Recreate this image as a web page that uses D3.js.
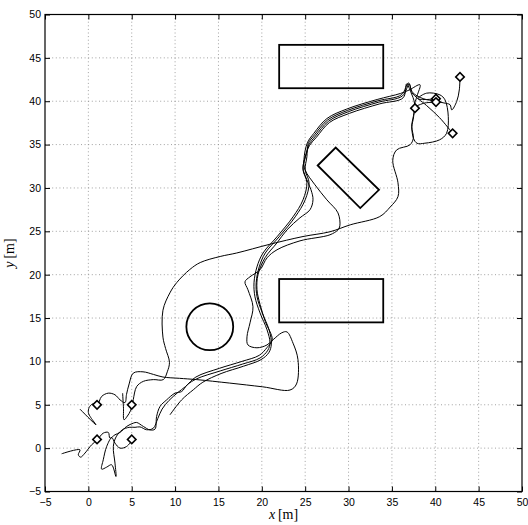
<!DOCTYPE html>
<html><head><meta charset="utf-8">
<script src="https://cdn.jsdelivr.net/npm/d3@7"></script>
<style>body{margin:0;background:#fff}</style>
</head><body>
<script>
// ---- data ----
const xTicks = [-5,0,5,10,15,20,25,30,35,40,45,50];
const yTicks = [-5,0,5,10,15,20,25,30,35,40,45,50];
const xLabel = "x", yLabel = "y", unitLabel = "[m]";

// obstacles
const rectObstacles = [[22,41.5,34,46.5],[22,14.5,34,19.5]];
const circleObstacles = [[14,14,2.7]];
const polyObstacles = [[[26.44,32.59],[28.52,34.66],[33.51,29.79],[31.35,27.68]]];

// start / goal markers
const startMarkers = [[1,5],[5,5],[1,1],[5,1]];
const goalMarkers = [[37.66,39.2],[40.08,40.3],[40.08,39.9],[42,36.3],[42.85,42.8]];

// trajectories
const path1 = [[3.95,6.34],[4.05,4.6],[4.11,3.27],[4.5,3.7],[4.85,4.3],[5.07,5.0],[5.18,5.6],[5.57,7.1],[6.34,7.7],[7.49,7.9],[8.64,7.9],[9.1,8.8],[9.35,9.9],[8.9,11.5],[8.6,12.8],[8.6,15.9],[9.4,17.9],[10.2,19.1],[11.7,20.6],[12.9,21.4],[15.2,22.1],[17.1,22.5],[20.9,23.5],[24.75,24.4],[27.86,24.95],[30.2,25.75],[33.6,26.7],[34.8,27.8],[35.7,29.0],[35.7,30.6],[35.1,33.2],[35.55,34.39],[37.08,34.97],[37.47,35.74],[37.28,37.08],[37.47,38.24],[37.66,39.2]];
const path2 = [[-0.97,4.5],[0.88,2.69],[0.3,3.5],[0.0,4.1],[0.1,4.7],[0.5,5.1],[1.03,5.0],[1.53,5.96],[2.3,6.34],[3.07,6.15],[3.65,5.57],[4.22,5.25],[4.4,6.2],[4.7,7.4],[5.18,8.65],[6.3,8.8],[7.5,8.5],[8.6,8.2],[10.5,8.05],[12.5,7.9],[16.3,7.5],[20.1,7.07],[23.25,6.7],[24.0,7.4],[24.17,10.2],[23.6,12.1],[22.9,13.4],[22.3,13.3],[21.3,12.5],[20.6,11.9],[19.44,11.57],[18.4,11.9],[18.29,12.84],[18.64,14.45],[18.98,16.3],[18.4,18.26],[18.06,19.18],[18.64,19.76],[19.79,20.56],[20.6,21.94],[21.75,22.87],[24.4,23.9],[27.86,24.6],[28.78,25.17],[29.0,25.63],[28.78,27.13],[27.5,28.63],[26.13,30.36],[24.98,32.1],[24.86,33.25],[25.25,35.2],[26.0,36.3],[27.5,38.0],[29.8,39.1],[33.3,40.2],[36.0,40.9],[37.0,41.3],[38.24,41.9],[37.9,40.6],[37.66,39.5],[38.8,39.8],[40.08,39.9]];
const path3 = [[-3.08,-0.65],[-0.97,-0.19],[-1.16,-0.77],[-0.89,-1.04],[-0.39,-0.57],[0.38,0.39],[1.03,0.96],[1.72,1.73],[2.3,1.81],[2.49,1.15],[3.07,1.54],[3.65,1.81],[4.41,2.5],[5.18,2.88],[5.57,2.96],[6.34,2.5],[7.1,2.1],[7.68,2.19],[7.87,3.65],[8.26,4.8],[9.03,5.57],[9.99,6.34],[10.76,6.53],[11.4,7.3],[12.5,8.0],[15.2,8.9],[17.8,9.7],[19.8,10.4],[20.7,11.3],[20.94,12.15],[20.6,13.65],[19.79,15.6],[19.21,17.45],[19.1,19.07],[19.44,20.9],[20.14,22.5],[21.75,24.37],[23.6,26.67],[24.75,28.63],[25.2,30.6],[24.75,32.1],[25.0,33.6],[25.5,34.9],[26.3,35.85],[27.8,37.55],[30.1,38.6],[33.6,39.7],[36.3,40.4],[36.7,42.0],[37.2,41.0],[37.6,39.8],[37.5,38.2],[37.3,37.0],[37.5,35.7],[37.9,35.15],[38.8,35.16],[40.5,35.55],[41.3,36.3],[41.5,38.24],[41.12,40.16],[40.54,40.73],[39.0,40.93],[38.0,40.3],[39.0,40.2],[40.08,40.3]];
const path4 = [[5.07,0.96],[4.41,0.19],[3.65,0.0],[3.07,0.58],[2.7,1.2],[2.11,0.19],[1.72,-1.34],[1.53,-2.42],[2.11,-2.19],[2.68,-1.92],[3.18,-3.27],[3.07,-1.73],[2.88,0.19],[3.2,1.3],[3.9,2.1],[4.7,2.4],[5.38,2.4],[5.95,2.45],[6.72,2.12],[7.49,2.3],[8.0,3.4],[8.5,4.5],[9.3,5.5],[10.3,6.4],[11.2,7.1],[12.4,8.2],[15.1,9.2],[17.7,10.0],[19.7,10.7],[20.6,11.6],[21.2,12.5],[20.4,14.6],[19.8,16.55],[19.44,18.3],[19.56,20.0],[20.37,21.95],[21.75,23.67],[22.9,25.17],[24.4,26.56],[25.55,27.48],[25.9,28.63],[25.67,29.79],[25.1,31.17],[24.75,32.32],[25.1,33.8],[25.45,35.0],[26.2,36.0],[27.7,37.7],[30.0,38.8],[33.5,39.9],[36.2,40.6],[37.0,42.0],[37.3,41.0],[39.0,39.5],[40.5,38.1],[42.0,36.3]];
const path5 = [[9.41,3.84],[10.76,5.57],[12.1,6.73],[13.2,7.6],[15.3,8.6],[17.9,9.45],[19.9,10.2],[20.8,11.0],[21.1,12.0],[20.85,13.6],[20.05,15.6],[19.45,17.45],[19.35,19.07],[19.7,20.9],[20.4,22.5],[22.0,24.37],[23.85,26.67],[25.0,28.63],[25.45,30.6],[25.0,32.1],[25.2,33.6],[25.35,35.1],[26.1,36.15],[27.6,37.85],[29.9,38.95],[33.4,40.05],[36.1,40.75],[36.9,42.1],[37.4,41.0],[38.6,40.3],[40.08,40.0],[41.0,39.8],[41.7,39.6],[41.9,39.0],[42.47,39.97],[42.77,41.3],[42.85,42.8]];
const trajectories = [path1, path2, path3, path4, path5];

// ---- drawing ----
const W = 528, H = 525;
const mLeft = 45, mTop = 14.5, pw = 477, ph = 477;
const svg = d3.select("body").append("svg").attr("width", W).attr("height", H)
  .style("font-family", "'Liberation Sans', Arial, sans-serif");

const x = d3.scaleLinear().domain([-5, 50]).range([mLeft, mLeft + pw]);
const y = d3.scaleLinear().domain([-5, 50]).range([mTop + ph, mTop]);

const fmt = d => d < 0 ? "\u2212" + Math.abs(d) : String(d);

// grid
const grid = svg.append("g").attr("stroke", "#8a8a8a").attr("stroke-width", 0.8)
  .attr("stroke-dasharray", "1,2.6");
grid.selectAll(".gx").data(xTicks.slice(1, -1)).join("line").attr("class", "gx")
  .attr("x1", d => x(d)).attr("x2", d => x(d)).attr("y1", mTop).attr("y2", mTop + ph);
grid.selectAll(".gy").data(yTicks.slice(1, -1)).join("line").attr("class", "gy")
  .attr("y1", d => y(d)).attr("y2", d => y(d)).attr("x1", mLeft).attr("x2", mLeft + pw);

// axes
const styleAxis = g => {
  g.select(".domain").remove();
  g.selectAll(".tick line").attr("stroke", "#000");
  g.selectAll("text").attr("font-size", 10.5).attr("fill", "#000")
    .attr("font-family", "'Liberation Sans', Arial, sans-serif");
};
svg.append("g").attr("transform", `translate(0,${mTop + ph})`)
  .call(d3.axisBottom(x).tickValues(xTicks).tickFormat(fmt).tickSizeInner(-5).tickSizeOuter(0).tickPadding(7))
  .call(styleAxis);
svg.append("g").attr("transform", `translate(${mLeft},0)`)
  .call(d3.axisLeft(y).tickValues(yTicks).tickFormat(fmt).tickSizeInner(-5).tickSizeOuter(0).tickPadding(4))
  .call(styleAxis);
svg.append("g").attr("transform", `translate(0,${mTop})`)
  .call(d3.axisTop(x).tickValues(xTicks).tickFormat("").tickSizeInner(-5).tickSizeOuter(0))
  .call(styleAxis);
svg.append("g").attr("transform", `translate(${mLeft + pw},0)`)
  .call(d3.axisRight(y).tickValues(yTicks).tickFormat("").tickSizeInner(-5).tickSizeOuter(0))
  .call(styleAxis);

// obstacles
const obs = svg.append("g").attr("fill", "none").attr("stroke", "#000").attr("stroke-width", 1.8);
obs.selectAll("rect").data(rectObstacles).join("rect")
  .attr("x", d => x(d[0])).attr("y", d => y(d[3]))
  .attr("width", d => x(d[2]) - x(d[0])).attr("height", d => y(d[1]) - y(d[3]));
obs.selectAll("circle").data(circleObstacles).join("circle")
  .attr("cx", d => x(d[0])).attr("cy", d => y(d[1])).attr("r", d => x(d[2]) - x(0));
obs.selectAll("path").data(polyObstacles).join("path")
  .attr("d", d => "M" + d.map(p => [x(p[0]), y(p[1])].join(",")).join("L") + "Z");

// trajectories
const line = d3.line().x(d => x(d[0])).y(d => y(d[1])).curve(d3.curveCatmullRom.alpha(0.5));
svg.append("g").attr("fill", "none").attr("stroke", "#000").attr("stroke-width", 1)
  .selectAll("path").data(trajectories).join("path").attr("d", line);

// markers
const diamond = d3.symbol().type(d3.symbolSquare).size(36);
svg.append("g").attr("fill", "#fff").attr("stroke", "#000").attr("stroke-width", 1.6)
  .selectAll("path").data(startMarkers.concat(goalMarkers)).join("path")
  .attr("d", diamond)
  .attr("transform", d => `translate(${x(d[0])},${y(d[1])}) rotate(45)`);

// frame
svg.append("rect").attr("x", mLeft).attr("y", mTop).attr("width", pw).attr("height", ph)
  .attr("fill", "none").attr("stroke", "#000").attr("stroke-width", 1.2);

// axis labels
const xl = svg.append("text").attr("x", mLeft + pw / 2).attr("y", 519).attr("text-anchor", "middle")
  .attr("font-family", "'Liberation Serif', 'Times New Roman', serif").attr("font-size", 14);
xl.append("tspan").attr("font-style", "italic").text(xLabel);
xl.append("tspan").text("\u2009" + unitLabel);
const yl = svg.append("text").attr("transform", `translate(14,${mTop + ph / 2}) rotate(-90)`)
  .attr("text-anchor", "middle")
  .attr("font-family", "'Liberation Serif', 'Times New Roman', serif").attr("font-size", 14);
yl.append("tspan").attr("font-style", "italic").text(yLabel);
yl.append("tspan").text("\u2009" + unitLabel);
</script>
</body></html>
